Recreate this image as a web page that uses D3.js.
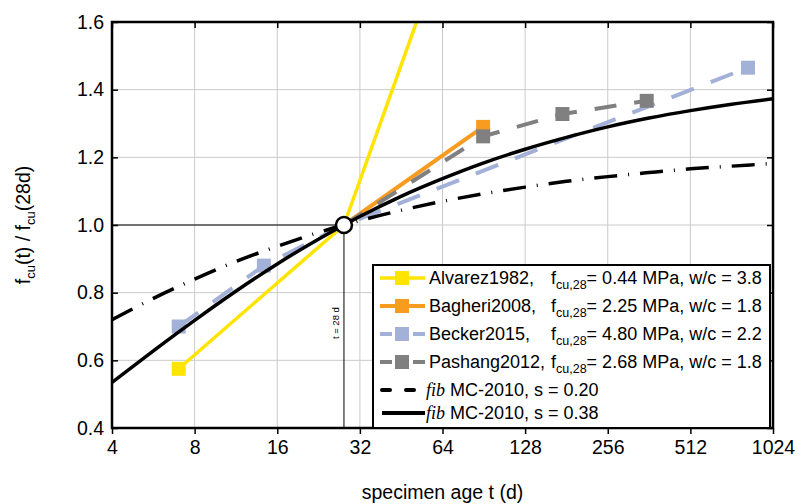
<!DOCTYPE html>
<html>
<head>
<meta charset="utf-8">
<script src="https://cdn.jsdelivr.net/npm/d3@7"></script>
<style>
  body { margin: 0; background: #fff; }
  text { font-family: "Liberation Sans", Arial, sans-serif; fill: #000; }
</style>
</head>
<body>
<svg width="798" height="504"></svg>
<script>
// Data
let xTicks = [4, 8, 16, 32, 64, 128, 256, 512, 1024];
let yTicks = [0.4, 0.6, 0.8, 1.0, 1.2, 1.4, 1.6];

let alvarezAge = [7, 28, 90];
let alvarezVal = [0.575, 1.0, 2.15];
let bagheriAge = [28, 90];
let bagheriVal = [1.0, 1.29];
let beckerAge = [7, 14.3, 28, 830];
let beckerVal = [0.70, 0.88, 1.0, 1.465];
let pashangAge = [28, 90, 175, 355];
let pashangVal = [1.0, 1.262, 1.328, 1.367];

let fibAge = [4, 5.66, 8, 11.3, 16, 22.6, 28, 32, 45, 64, 90, 128, 181, 256, 362, 512, 724, 1024];
let fibS020 = [0.720, 0.783, 0.840, 0.892, 0.937, 0.978, 1.0, 1.013, 1.043, 1.070, 1.092, 1.112, 1.129, 1.143, 1.155, 1.166, 1.174, 1.182];
let fibS038 = [0.535, 0.628, 0.718, 0.804, 0.885, 0.958, 1.0, 1.025, 1.084, 1.137, 1.183, 1.224, 1.259, 1.290, 1.316, 1.338, 1.357, 1.373];

let refAge = 28, refVal = 1.0;

let svg = d3.select("svg");
let margin = { top: 22, right: 25, bottom: 76, left: 112 },
    width = +svg.attr("width") - margin.left - margin.right,
    height = +svg.attr("height") - margin.top - margin.bottom;

let g = svg.append("g").attr("transform", "translate(" + margin.left + "," + margin.top + ")");

let x = d3.scaleLog().base(2).domain([4, 1024]).range([0, width]);
let y = d3.scaleLinear().domain([0.4, 1.6]).range([height, 0]);

svg.append("defs").append("clipPath").attr("id", "plot-clip")
  .append("rect").attr("width", width).attr("height", height);

// grid
g.append("g").selectAll("line").data(xTicks.slice(1, -1)).enter().append("line")
  .attr("x1", d => x(d)).attr("x2", d => x(d)).attr("y1", 0).attr("y2", height)
  .attr("stroke", "#cacaca").attr("stroke-width", 1);
g.append("g").selectAll("line").data(yTicks.slice(1, -1)).enter().append("line")
  .attr("x1", 0).attr("x2", width).attr("y1", d => y(d)).attr("y2", d => y(d))
  .attr("stroke", "#cacaca").attr("stroke-width", 1);

// 28 day reference lines
g.append("line").attr("x1", 0).attr("x2", x(refAge)).attr("y1", y(refVal)).attr("y2", y(refVal))
  .attr("stroke", "#000").attr("stroke-width", 1);
g.append("line").attr("x1", x(refAge)).attr("x2", x(refAge)).attr("y1", y(refVal)).attr("y2", height)
  .attr("stroke", "#000").attr("stroke-width", 1);
g.append("text")
  .attr("transform", "translate(" + (x(refAge) - 5) + "," + (y(0.71)) + ") rotate(-90)")
  .attr("text-anchor", "middle").attr("font-size", "9.5px").text("t = 28 d");

// axes
let fmtX = d => d;
g.append("g").attr("transform", "translate(0," + height + ")")
  .call(d3.axisBottom(x).tickValues(xTicks).tickFormat(fmtX).tickSize(6).tickPadding(6))
  .call(a => a.select(".domain").remove())
  .call(a => a.selectAll("line").attr("stroke-width", 1.5))
  .call(a => a.selectAll("text").attr("font-size", "19.5px").attr("font-family", "Liberation Sans, Arial, sans-serif"));
g.append("g")
  .call(d3.axisBottom(x).tickValues(xTicks).tickFormat("").tickSize(6))
  .call(a => a.select(".domain").remove())
  .call(a => a.selectAll("line").attr("stroke-width", 1.5));
g.append("g")
  .call(d3.axisLeft(y).tickValues(yTicks).tickFormat(d3.format(".1f")).tickSize(-6).tickPadding(8))
  .call(a => a.select(".domain").remove())
  .call(a => a.selectAll("line").attr("stroke-width", 1.5))
  .call(a => a.selectAll("text").attr("font-size", "19.5px").attr("font-family", "Liberation Sans, Arial, sans-serif"));
g.append("g").attr("transform", "translate(" + width + ",0)")
  .call(d3.axisLeft(y).tickValues(yTicks).tickFormat("").tickSize(6))
  .call(a => a.select(".domain").remove())
  .call(a => a.selectAll("line").attr("stroke-width", 1.5));

// series
let plot = g.append("g").attr("clip-path", "url(#plot-clip)");
let line = d3.line().x(d => x(d[0])).y(d => y(d[1]));
let smooth = d3.line().x(d => x(d[0])).y(d => y(d[1])).curve(d3.curveMonotoneX);

let series = [
  { age: alvarezAge, val: alvarezVal, color: "#ffe400", dash: null, w: 3.5 },
  { age: bagheriAge, val: bagheriVal, color: "#f89c1f", dash: null, w: 4 },
  { age: beckerAge, val: beckerVal, color: "#a3b1d8", dash: "24,18", w: 4 },
  { age: pashangAge, val: pashangVal, color: "#808080", dash: "22,18", w: 4 }
];

series.forEach(s => {
  let pts = s.age.map((a, i) => [a, s.val[i]]);
  plot.append("path").datum(pts).attr("d", line)
    .attr("fill", "none").attr("stroke", s.color).attr("stroke-width", s.w)
    .attr("stroke-dasharray", s.dash);
  plot.selectAll(null).data(pts.filter(p => p[0] !== refAge)).enter().append("rect")
    .attr("x", p => x(p[0]) - 7).attr("y", p => y(p[1]) - 7)
    .attr("width", 14).attr("height", 14).attr("fill", s.color);
});

plot.append("path").datum(fibAge.map((a, i) => [a, fibS020[i]])).attr("d", smooth)
  .attr("fill", "none").attr("stroke", "#000").attr("stroke-width", 3.5)
  .attr("stroke-dasharray", "23,11,1,11");
plot.append("path").datum(fibAge.map((a, i) => [a, fibS038[i]])).attr("d", smooth)
  .attr("fill", "none").attr("stroke", "#000").attr("stroke-width", 3.5);

// frame
g.append("rect").attr("width", width).attr("height", height)
  .attr("fill", "none").attr("stroke", "#000").attr("stroke-width", 2.5);

// 28 day marker
g.append("circle").attr("cx", x(refAge)).attr("cy", y(refVal)).attr("r", 8)
  .attr("fill", "#fff").attr("stroke", "#000").attr("stroke-width", 2.5);

// legend
let legX = 261, legY = 243;
let legend = g.append("g");
legend.append("rect").attr("x", legX).attr("y", legY)
  .attr("width", width - legX - 3).attr("height", height - legY)
  .attr("fill", "#fff").attr("stroke", "#000").attr("stroke-width", 2);

let legNames = ["Alvarez1982,", "Bagheri2008,", "Becker2015,", "Pashang2012,"];
let legFcu = ["0.44", "2.25", "4.80", "2.68"];
let legWc = ["3.8", "1.8", "2.2", "1.8"];
let rowY = [256, 284, 312, 340, 368, 391];

series.forEach((s, i) => {
  let cy = rowY[i];
  legend.append("line").attr("x1", 268).attr("x2", 313).attr("y1", cy).attr("y2", cy)
    .attr("stroke", s.color).attr("stroke-width", s.w)
    .attr("stroke-dasharray", s.dash ? "12,21" : null);
  legend.append("rect").attr("x", 283).attr("y", cy - 7).attr("width", 14).attr("height", 14)
    .attr("fill", s.color);
  legend.append("text").attr("x", 317).attr("y", cy + 6).attr("font-size", "18px").text(legNames[i]);
  let t = legend.append("text").attr("x", 439).attr("y", cy + 6).attr("font-size", "18px");
  t.append("tspan").text("f");
  t.append("tspan").attr("font-size", "12.5px").attr("dy", 5).text("cu,28");
  t.append("tspan").attr("dy", -5).text("= " + legFcu[i] + " MPa, w/c = " + legWc[i]);
});

let fibLabels = ["s = 0.20", "s = 0.38"];
fibLabels.forEach((lab, i) => {
  let cy = rowY[4 + i];
  legend.append("line").attr("x1", 270).attr("x2", 313).attr("y1", cy).attr("y2", cy)
    .attr("stroke", "#000").attr("stroke-width", 4)
    .attr("stroke-linecap", i === 0 ? "round" : "butt")
    .attr("stroke-dasharray", i === 0 ? "8,16" : null);
  let t = legend.append("text").attr("x", 314).attr("y", cy + 6).attr("font-size", "18px");
  t.append("tspan").attr("font-family", "Liberation Serif, Times New Roman, serif")
    .attr("font-style", "italic").text("fib");
  t.append("tspan").text(" MC-2010, " + lab);
});

// axis titles
g.append("text").attr("x", width / 2).attr("y", height + 71)
  .attr("text-anchor", "middle").attr("font-size", "19.5px").text("specimen age t (d)");

let yl = svg.append("text").attr("transform", "translate(30," + (margin.top + y(1.0)) + ") rotate(-90)")
  .attr("text-anchor", "middle").attr("font-size", "19.5px");
yl.append("tspan").text("f");
yl.append("tspan").attr("font-size", "13px").attr("dy", 5).text("cu");
yl.append("tspan").attr("dy", -5).text("(t) / f");
yl.append("tspan").attr("font-size", "13px").attr("dy", 5).text("cu");
yl.append("tspan").attr("dy", -5).text("(28d)");
</script>
</body>
</html>
